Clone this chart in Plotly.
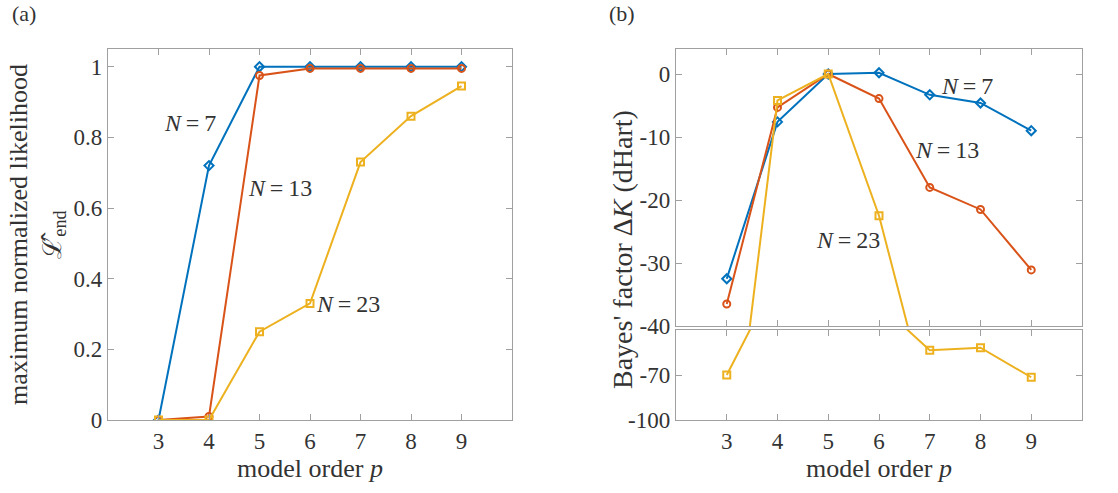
import plotly.graph_objects as go

p = [3, 4, 5, 6, 7, 8, 9]

# Panel (a): maximum normalized likelihood
L_N7 = [0.0, 0.72, 1.0, 1.0, 1.0, 1.0, 1.0]
L_N13 = [0.0, 0.01, 0.975, 0.995, 0.995, 0.995, 0.995]
L_N23 = [0.0, 0.0, 0.25, 0.33, 0.73, 0.86, 0.945]

# Panel (b): Bayes' factor (dHart)
B_N7 = [-32.5, -7.6, 0.0, 0.2, -3.3, -4.6, -9.0]
B_N13 = [-36.5, -5.3, 0.0, -3.9, -18.0, -21.5, -31.1]
B_N23 = [-70.0, -4.2, 0.0, -22.5, -53.5, -51.8, -71.5]

a_ticks = [0, 0.2, 0.4, 0.6, 0.8, 1]
a_ticklabels = ["0", "0.2", "0.4", "0.6", "0.8", "1"]
b_upper_ticks = [0, -10, -20, -30, -40]
b_upper_labels = ["0", "-10", "-20", "-30", "-40"]
b_lower_ticks = [-70, -100]
b_lower_labels = ["-70", "-100"]

colors = ["#0072BD", "#D95319", "#EDB120"]
symbols = ["diamond-open", "circle-open", "square-open"]
names = ["N=7", "N=13", "N=23"]

FONT = "Liberation Serif, Times New Roman, DejaVu Serif, serif"
TXT = "#333333"
AX = "#a0a0a0"
FS_TICK = 23
FS_TITLE = 26
FS_ANN = 24

fig = go.Figure()

def add(xax, yax, ys, i):
    fig.add_trace(go.Scatter(
        x=p, y=ys, xaxis=xax, yaxis=yax, mode="lines+markers",
        line=dict(color=colors[i], width=2),
        marker=dict(symbol=symbols[i], size=7, color=colors[i],
                    line=dict(color=colors[i], width=2)),
        showlegend=False, name=names[i]))

for i, ys in enumerate([L_N7, L_N13, L_N23]):
    add("x", "y", ys, i)
for i, ys in enumerate([B_N7, B_N13, B_N23]):
    add("x2", "y2", ys, i)
for i, ys in enumerate([B_N7, B_N13, B_N23]):
    add("x3", "y3", ys, i)

W, H = 1118, 493
def dx(a, b):
    return [a / W, b / W]
def dy(top, bot):
    return [1 - bot / H, 1 - top / H]

axcommon = dict(showgrid=False, zeroline=False, showline=True, linecolor=AX,
                linewidth=1.3, mirror="ticks", ticks="inside", ticklen=6,
                tickcolor=AX, automargin=False,
                tickfont=dict(family=FONT, size=FS_TICK, color=TXT))

xt = dict(tickvals=p, range=[2, 10])

fig.update_layout(
    width=W, height=H, margin=dict(l=0, r=0, t=0, b=0, autoexpand=False),
    paper_bgcolor="white", plot_bgcolor="white",
    font=dict(family=FONT, color=TXT, size=FS_TICK),
    xaxis=dict(domain=dx(108, 512), anchor="y", **xt, **axcommon,
               title=dict(text="model order <i>p</i>", font=dict(family=FONT, size=FS_TITLE), standoff=6)),
    yaxis=dict(domain=dy(49, 420), anchor="x", range=[0, 1.05],
               tickvals=a_ticks, ticktext=a_ticklabels,
               **axcommon,
               title=dict(text="maximum normalized likelihood<br>ℒ̂<sub>end</sub>",
                          font=dict(family=FONT, size=FS_TITLE), standoff=4)),
    xaxis2=dict(domain=dx(676, 1082), anchor="y2", **xt, **axcommon, showticklabels=False),
    yaxis2=dict(domain=dy(49, 326), anchor="x2", range=[-40, 3.97],
                tickvals=b_upper_ticks, ticktext=b_upper_labels, **axcommon),
    xaxis3=dict(domain=dx(676, 1082), anchor="y3", **xt, **axcommon,
                title=dict(text="model order <i>p</i>", font=dict(family=FONT, size=FS_TITLE), standoff=6)),
    yaxis3=dict(domain=dy(330, 420), anchor="x3", range=[-100, -40],
                tickvals=b_lower_ticks, ticktext=b_lower_labels, **axcommon),
)

ann = [
    dict(text="(a)", xref="paper", yref="paper", x=10 / W, y=1 - 14 / H, xanchor="left", yanchor="middle", showarrow=False,
         font=dict(size=22)),
    dict(text="(b)", xref="paper", yref="paper", x=607 / W, y=1 - 14 / H, xanchor="left", yanchor="middle", showarrow=False,
         font=dict(size=22)),
    dict(text="Bayes' factor Δ<i>K</i> (dHart)", xref="paper", yref="paper", x=622 / W, y=1 - 250 / H,
         textangle=-90, showarrow=False, font=dict(size=28)),
    dict(text="<i>N</i>\u2009=\u20097", xref="x", yref="y", x=3.63, y=0.84, showarrow=False),
    dict(text="<i>N</i>\u2009=\u200913", xref="x", yref="y", x=5.40, y=0.657, showarrow=False),
    dict(text="<i>N</i>\u2009=\u200923", xref="x", yref="y", x=6.76, y=0.329, showarrow=False),
    dict(text="<i>N</i>\u2009=\u20097", xref="x2", yref="y2", x=7.74, y=-1.9, showarrow=False),
    dict(text="<i>N</i>\u2009=\u200913", xref="x2", yref="y2", x=7.33, y=-12.1, showarrow=False),
    dict(text="<i>N</i>\u2009=\u200923", xref="x2", yref="y2", x=5.39, y=-26.3, showarrow=False),
]
for a in ann:
    a.setdefault("font", dict(size=FS_ANN))
    a["font"].setdefault("family", FONT)
    a["font"].setdefault("color", TXT)
fig.update_layout(annotations=ann)

fig.write_html("out.html", config={"displayModeBar": False},
               post_script="document.body.style.margin='0';document.body.style.overflow='hidden';")
